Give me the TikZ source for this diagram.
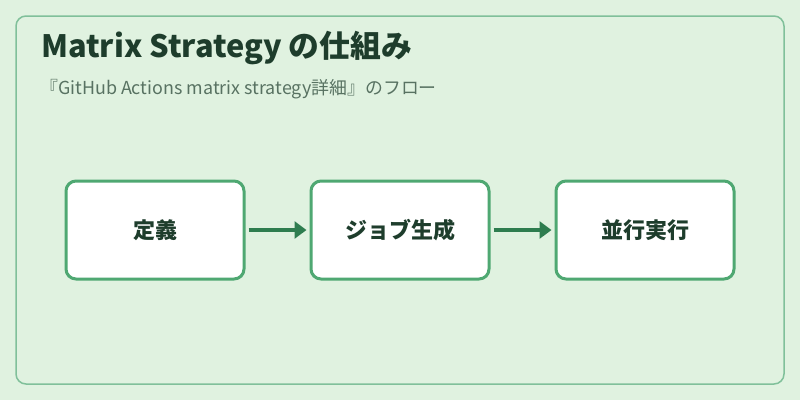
\documentclass[tikz,border=0pt]{standalone}
\usepackage{fontspec}
\setmainfont{Noto Sans CJK JP}
\usetikzlibrary{arrows.meta}

\definecolor{bgmint}{HTML}{E0F2E0}
\definecolor{framegreen}{HTML}{80C09A}
\definecolor{boxgreen}{HTML}{4FA872}
\definecolor{arrowgreen}{HTML}{2E7D4F}
\definecolor{titlegreen}{HTML}{1E3D2C}
\definecolor{subgreen}{HTML}{587262}

\tikzset{
  stage/.style={draw=boxgreen, line width=3pt, fill=white, rounded corners=10pt,
    minimum width=178pt, minimum height=98pt, inner sep=0pt,
    font=\fontsize{22}{26}\selectfont\bfseries, text=titlegreen},
  flow/.style={draw=arrowgreen, line width=4pt,
    -{Triangle[length=12pt,width=17pt]}, shorten <=3pt, shorten >=3pt}
}

\begin{document}
\begin{tikzpicture}[x=1pt,y=-1pt]
        \useasboundingbox (0,0) rectangle (800,400);
        \fill[bgmint] (0,0) rectangle (800,400);
        \draw[framegreen, line width=1.5pt, rounded corners=10pt] (16,16) rectangle (784,384);

        % heading
        \node[anchor=base west, inner sep=0pt, text=titlegreen,
          font=\fontsize{30.8}{34}\selectfont\bfseries] (title) at (41,57) {Matrix Strategy の仕組み};
        \node[anchor=base west, inner sep=0pt, text=subgreen,
          font=\fontsize{17.9}{20}\selectfont] (subtitle) at (40,94) {『GitHub Actions matrix strategy詳細』のフロー};

        \node[stage] (define) at (155,230) {定義};
        \node[stage] (jobs) at (400,230) {ジョブ生成};
        \node[stage] (parallel) at (645,230) {並行実行};

        \draw[flow] (define) -- (jobs);
        \draw[flow] (jobs) -- (parallel);
      \end{tikzpicture}
\end{document}
